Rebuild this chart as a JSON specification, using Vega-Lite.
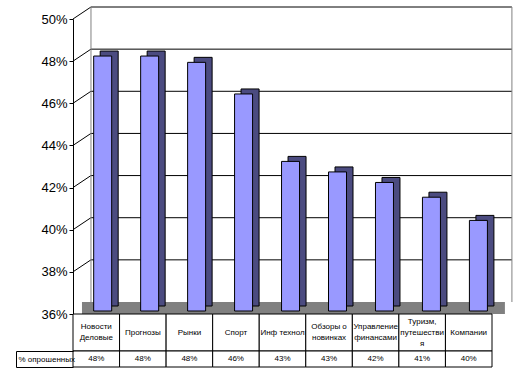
{
  "$schema": "https://vega.github.io/schema/vega-lite/v6.json",
  "padding": {"left": 15, "top": 6, "right": 10, "bottom": 6},
  "autosize": {"type": "pad"},
  "background": "white",
  "config": {"font": "Liberation Sans", "view": {"stroke": null}},
  "spacing": 0,
  "bounds": "flush",
  "resolve": {"scale": {"x": "independent"}},
  "datasets": {
    "survey": [
      {"cat": "Новости Деловые", "label": "Новости|Деловые", "pct": 0.481},
      {"cat": "Прогнозы", "label": "Прогнозы", "pct": 0.481},
      {"cat": "Рынки", "label": "Рынки", "pct": 0.478},
      {"cat": "Спорт", "label": "Спорт", "pct": 0.463},
      {"cat": "Инф технол", "label": "Инф технол", "pct": 0.431},
      {"cat": "Обзоры о новинках", "label": "Обзоры о|новинках", "pct": 0.426},
      {"cat": "Управление финансами", "label": "Управление|финансами", "pct": 0.421},
      {"cat": "Туризм, путешествия", "label": "Туризм,|путешестви|я", "pct": 0.414},
      {"cat": "Компании", "label": "Компании", "pct": 0.403}
    ],
    "grid": [{"g": 0.38}, {"g": 0.40}, {"g": 0.42}, {"g": 0.44}, {"g": 0.46}, {"g": 0.48}, {"g": 0.50}]
  },
  "vconcat": [
    {
      "width": 439,
      "height": 295,
      "encoding": {
        "x": {"field": "cat", "type": "nominal", "sort": null, "scale": {"domain": ["Новости Деловые", "Прогнозы", "Рынки", "Спорт", "Инф технол", "Обзоры о новинках", "Управление финансами", "Туризм, путешествия", "Компании"], "paddingInner": 0, "paddingOuter": 0.1735, "align": 0.38}, "axis": null}
      },
      "layer": [
        {
          "data": {"values": [{}]},
          "mark": {"type": "rect", "fill": "#808080", "xOffset": -20.7, "x2Offset": 26.5, "y2Offset": -12},
          "encoding": {
            "x": {"datum": "Новости Деловые", "type": "nominal"},
            "x2": {"datum": "Компании"},
            "y": {"datum": 0.36, "type": "quantitative", "scale": {"domain": [0.36, 0.5], "nice": false, "zero": false}},
            "y2": {"datum": 0.36}
          }
        },
        {
          "data": {"name": "grid"},
          "mark": {"type": "rule", "color": "black", "strokeWidth": 1, "xOffset": -11.7, "x2Offset": 33.5, "yOffset": -12, "y2Offset": -12},
          "encoding": {
            "x": {"datum": "Новости Деловые", "type": "nominal"},
            "x2": {"datum": "Компании"},
            "y": {"field": "g", "type": "quantitative", "scale": {"domain": [0.36, 0.5], "nice": false, "zero": false}},
            "y2": {"field": "g"}
          }
        },
        {
          "data": {"name": "grid"},
          "mark": {"type": "rule", "color": "black", "strokeWidth": 1, "xOffset": -29.7, "x2Offset": -58.7, "y2Offset": -12},
          "encoding": {
            "x": {"datum": "Новости Деловые", "type": "nominal"},
            "x2": {"datum": "Прогнозы"},
            "y": {"field": "g", "type": "quantitative", "scale": {"domain": [0.36, 0.5], "nice": false, "zero": false}},
            "y2": {"field": "g"}
          }
        },
        {
          "data": {"values": [{}]},
          "mark": {"type": "rule", "color": "#808080", "strokeWidth": 1, "xOffset": -11.7, "yOffset": -12, "y2Offset": -12},
          "encoding": {
            "x": {"datum": "Новости Деловые", "type": "nominal"},
            "y": {"datum": 0.36, "type": "quantitative", "scale": {"domain": [0.36, 0.5], "nice": false, "zero": false}},
            "y2": {"datum": 0.5}
          }
        },
        {
          "data": {"values": [{}]},
          "mark": {"type": "rule", "color": "#808080", "strokeWidth": 1, "xOffset": 33.5, "yOffset": -12, "y2Offset": -12},
          "encoding": {
            "x": {"datum": "Компании", "type": "nominal"},
            "y": {"datum": 0.36, "type": "quantitative", "scale": {"domain": [0.36, 0.5], "nice": false, "zero": false}},
            "y2": {"datum": 0.5}
          }
        },
        {
          "data": {"name": "survey"},
          "mark": {"type": "bar", "color": "#4b4b80", "stroke": "black", "strokeWidth": 1, "size": 18, "xOffset": 6.5, "yOffset": -8, "y2Offset": -8},
          "encoding": {
            "y": {"field": "pct", "type": "quantitative", "scale": {"domain": [0.36, 0.5], "nice": false, "zero": false}},
            "y2": {"datum": 0.36}
          }
        },
        {
          "data": {"name": "survey"},
          "mark": {"type": "bar", "color": "#9999ff", "stroke": "black", "strokeWidth": 1, "size": 18, "yOffset": -3, "y2Offset": -3},
          "encoding": {
            "y": {
              "field": "pct", "type": "quantitative",
              "scale": {"domain": [0.36, 0.5], "nice": false, "zero": false},
              "axis": {"values": [0.36, 0.38, 0.4, 0.42, 0.44, 0.46, 0.48, 0.5], "format": ".0%", "title": null, "grid": false, "domain": true, "domainColor": "black", "ticks": true, "tickColor": "black", "tickSize": 4, "labelPadding": 2, "labelFontSize": 13, "labelColor": "black", "labelFont": "Liberation Sans"}
            },
            "y2": {"datum": 0.36}
          }
        }
      ]
    },
    {
      "width": 419,
      "height": 37,
      "data": {"name": "survey"},
      "encoding": {
        "x": {"field": "cat", "type": "nominal", "sort": null, "scale": {"paddingInner": 0, "paddingOuter": 0}, "axis": null}
      },
      "layer": [
        {"mark": {"type": "rect", "fill": "white", "stroke": "black", "strokeWidth": 1}},
        {"mark": {"type": "text", "lineBreak": "|", "fontSize": 8, "color": "black", "lineHeight": 11, "baseline": "middle", "dy": {"expr": "-(length(split(datum.label, '|')) - 1) * 5.5"}}, "encoding": {"text": {"field": "label"}}}
      ]
    },
    {
      "width": 419,
      "height": 16,
      "data": {"name": "survey"},
      "encoding": {
        "x": {"field": "cat", "type": "nominal", "sort": null, "scale": {"paddingInner": 0, "paddingOuter": 0}, "axis": null},
        "y": {
          "datum": "% опрошенных", "type": "nominal",
          "scale": {"paddingInner": 0, "paddingOuter": 0},
          "axis": {"orient": "left", "offset": 57, "domain": true, "domainColor": "black", "ticks": true, "tickBand": "extent", "tickSize": -57, "tickColor": "black", "labelAlign": "left", "labelPadding": 55, "labelFontSize": 8, "labelColor": "black", "title": null}
        }
      },
      "layer": [
        {"mark": {"type": "rect", "fill": "white", "stroke": "black", "strokeWidth": 1}},
        {"mark": {"type": "text", "fontSize": 8, "color": "black"}, "encoding": {"text": {"field": "pct", "type": "quantitative", "format": ".0%"}}}
      ]
    }
  ]
}
